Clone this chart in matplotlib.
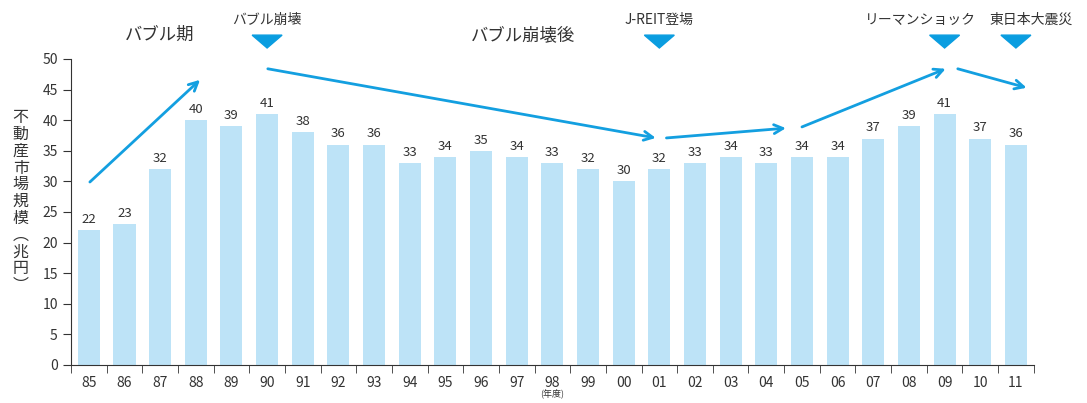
import numpy as np
import matplotlib.pyplot as plt
from matplotlib.patches import Polygon

plt.rcParams['font.family'] = ['Noto Sans CJK JP', 'DejaVu Sans']

# --- data ---
years = ['85', '86', '87', '88', '89', '90', '91', '92', '93', '94', '95', '96', '97', '98',
         '99', '00', '01', '02', '03', '04', '05', '06', '07', '08', '09', '10', '11']
values = [22, 23, 32, 40, 39, 41, 38, 36, 36, 33, 34, 35, 34, 33,
          32, 30, 32, 33, 34, 33, 34, 34, 37, 39, 41, 37, 36]

# trend arrows (start x, start y, end x, end y) in bar-index / value units
trend_arrows = [(0.03, 29.9, 3.12, 46.6),
                (5.02, 48.4, 15.9, 37.1),
                (16.2, 37.1, 19.55, 38.7),
                (20.0, 38.9, 24.03, 48.4),
                (24.37, 48.4, 26.3, 45.3)]

# events marked with a triangle: (bar index, label, label x, alignment)
events = [(5, 'バブル崩壊', 5.0, 'center'),
          (16, 'J-REIT登場', 16.0, 'center'),
          (24, 'リーマンショック', 24.87, 'right'),
          (26, '東日本大震災', 25.26, 'left')]

periods = [(2.0, 'バブル期'), (12.17, 'バブル崩壊後')]

bar_color = '#bde3f7'
arrow_color = '#139fe0'
text_color = '#333333'

fig = plt.figure(figsize=(10.87, 4.03), dpi=100)
ax = fig.add_axes([0.0653, 0.0943, 0.8857, 0.7593])

x = np.arange(len(years))
ax.bar(x, values, width=0.62, color=bar_color)
for xi, v in zip(x, values):
    ax.text(xi, v + 0.7, str(v), ha='center', va='bottom', fontsize=9.5, color=text_color)

ax.set_xlim(-0.5, len(years) - 0.5)
ax.set_ylim(0, 50)
ax.set_yticks(range(0, 51, 5))
ax.set_xticks(x)
ax.set_xticklabels(years)
ax.set_xticks(np.arange(-0.5, len(years)), minor=True)
ax.tick_params(axis='x', which='major', length=0, pad=8, labelsize=10, labelcolor=text_color)
ax.tick_params(axis='x', which='minor', length=6, direction='out', color='#333333')
ax.tick_params(axis='y', length=6, labelsize=10, labelcolor=text_color, color='#333333')
for s in ['top', 'right']:
    ax.spines[s].set_visible(False)
for s in ['left', 'bottom']:
    ax.spines[s].set_color('#333333')

for x0, y0, x1, y1 in trend_arrows:
    ax.annotate('', xy=(x1, y1), xytext=(x0, y0),
                arrowprops=dict(arrowstyle='->', color=arrow_color, lw=2,
                                mutation_scale=16, shrinkA=0, shrinkB=0),
                annotation_clip=False)

for idx, label, lx, ha in events:
    tri = Polygon([(idx - 0.42, 53.9), (idx + 0.42, 53.9), (idx, 51.8)],
                  closed=True, color='#0a9de0', clip_on=False)
    ax.add_patch(tri)
    ax.text(lx, 55.3, label, ha=ha, va='bottom', fontsize=10,
            color=text_color, clip_on=False)

for px, label in periods:
    ax.text(px, 52.5, label, ha='center', va='bottom', fontsize=12.5,
            color=text_color, clip_on=False)

ylab = '\n'.join(list('不動産市場規模') + ['︵', '兆', '円', '︶'])
fig.text(0.019, 0.50, ylab, ha='center', va='center', fontsize=11.5,
         color=text_color, linespacing=0.98)

ax.text(13, -4.7, '(年度)', ha='center', va='center', fontsize=6.5, color=text_color,
        clip_on=False)

fig.savefig('out.png', dpi=100)
